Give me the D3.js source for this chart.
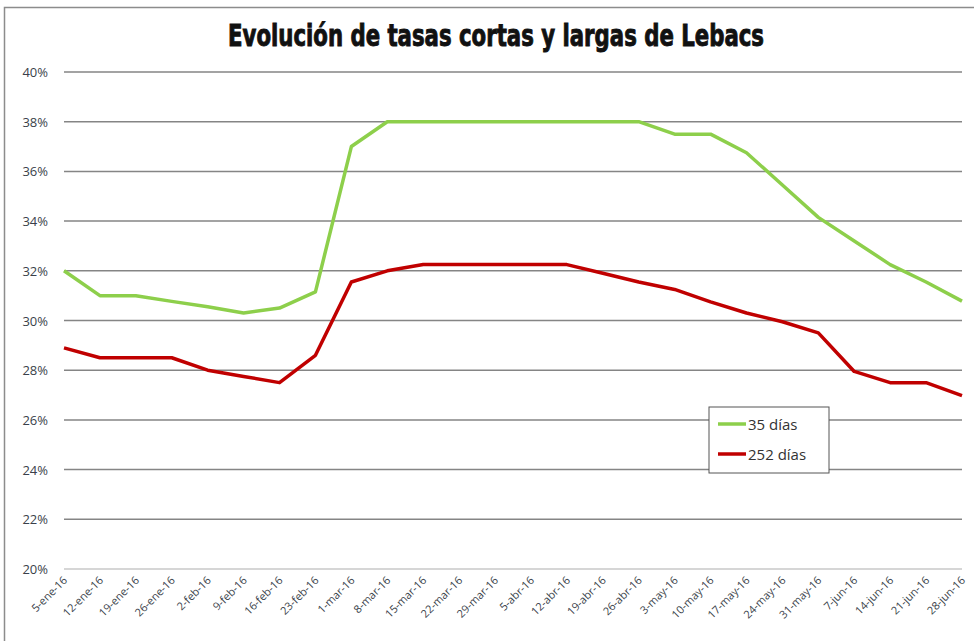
<!DOCTYPE html>
<html lang="es">
<head>
<meta charset="utf-8">
<title>Evolución de tasas cortas y largas de Lebacs</title>
<script src="https://d3js.org/d3.v7.min.js"></script>
<style>
  body { margin: 0; background: #fff; }
  svg { display: block; }
</style>
</head>
<body>
<svg width="974" height="641"></svg>
<script>
// fechas semanales de licitación
const dates = ["5-ene-16","12-ene-16","19-ene-16","26-ene-16","2-feb-16","9-feb-16","16-feb-16","23-feb-16",
  "1-mar-16","8-mar-16","15-mar-16","22-mar-16","29-mar-16","5-abr-16","12-abr-16","19-abr-16","26-abr-16",
  "3-may-16","10-may-16","17-may-16","24-may-16","31-may-16","7-jun-16","14-jun-16","21-jun-16","28-jun-16"];

const tasa35 = [32, 31, 31, 30.77, 30.55, 30.3, 30.5, 31.15, 37, 38, 38, 38, 38, 38, 38, 38, 38,
  37.5, 37.5, 36.75, 35.45, 34.15, 33.2, 32.25, 31.55, 30.78];
const tasa252 = [28.9, 28.5, 28.5, 28.5, 28.0, 27.75, 27.5, 28.6, 31.55, 32.0, 32.25, 32.25, 32.25, 32.25, 32.25, 31.9, 31.55,
  31.25, 30.75, 30.3, 29.95, 29.5, 27.95, 27.5, 27.5, 26.98];

const yTicks = [20, 22, 24, 26, 28, 30, 32, 34, 36, 38, 40];

const series = [
  { name: "35 días", values: tasa35, color: "#8dcf4b" },
  { name: "252 días", values: tasa252, color: "#c00000" }
];

const svg = d3.select("svg");
const plotL = 64, plotR = 962, plotT = 72, plotB = 569;

// marco del gráfico
svg.append("rect")
  .attr("x", 4.5).attr("y", 7.5)
  .attr("width", 980).attr("height", 650)
  .attr("fill", "none")
  .attr("stroke", "#8c8c8c")
  .attr("stroke-width", 1.5);

svg.append("text")
  .attr("x", 496).attr("y", 46)
  .attr("text-anchor", "middle")
  .attr("font-family", "'Liberation Sans Narrow', 'DejaVu Sans Condensed', sans-serif")
  .attr("font-weight", "bold")
  .attr("font-size", 30)
  .attr("textLength", 536)
  .attr("lengthAdjust", "spacingAndGlyphs")
  .attr("fill", "#111")
  .attr("stroke", "#111")
  .attr("stroke-width", 0.9)
  .text("Evolución de tasas cortas y largas de Lebacs");

const x = d3.scalePoint().domain(dates).range([plotL, plotR]);
const y = d3.scaleLinear().domain([20, 40]).range([plotB, plotT]);

// líneas de grilla
svg.append("g")
  .selectAll("line")
  .data(yTicks)
  .join("line")
  .attr("x1", plotL).attr("x2", plotR)
  .attr("y1", d => y(d)).attr("y2", d => y(d))
  .attr("stroke", d => d === 20 ? "#c8c8c8" : "#858585")
  .attr("stroke-width", 1.5);

// eje Y
svg.append("g")
  .selectAll("text")
  .data(yTicks)
  .join("text")
  .attr("x", 48)
  .attr("y", d => y(d) + 5)
  .attr("text-anchor", "end")
  .attr("font-family", "'Open Sans', sans-serif")
  .attr("font-size", 13)
  .attr("fill", "#3a3f4a")
  .text(d => d + "%");

// eje X con etiquetas rotadas
svg.append("g")
  .selectAll("text")
  .data(dates)
  .join("text")
  .attr("transform", d => `translate(${x(d) + 4},${plotB + 12}) rotate(-45)`)
  .attr("text-anchor", "end")
  .attr("font-family", "'Open Sans', sans-serif")
  .attr("font-size", 11)
  .attr("fill", "#3a3f4a")
  .text(d => d);

const line = d3.line()
  .x((d, i) => x(dates[i]))
  .y(d => y(d));

svg.append("g")
  .selectAll("path")
  .data(series)
  .join("path")
  .attr("d", d => line(d.values))
  .attr("fill", "none")
  .attr("stroke", d => d.color)
  .attr("stroke-width", 3.5)
  .attr("stroke-linejoin", "round");

// leyenda
const lg = svg.append("g").attr("transform", "translate(709,407)");
lg.append("rect")
  .attr("width", 120).attr("height", 66)
  .attr("fill", "#fff")
  .attr("stroke", "#555")
  .attr("stroke-width", 1);
const items = lg.selectAll("g.item")
  .data(series)
  .join("g")
  .attr("class", "item")
  .attr("transform", (d, i) => `translate(0,${17 + i * 30})`);
items.append("line")
  .attr("x1", 9).attr("x2", 37)
  .attr("stroke", d => d.color)
  .attr("stroke-width", 3.5);
items.append("text")
  .attr("x", 39).attr("y", 6)
  .attr("font-family", "'Open Sans', sans-serif")
  .attr("font-size", 15)
  .attr("fill", "#333")
  .text(d => d.name);
</script>
</body>
</html>
